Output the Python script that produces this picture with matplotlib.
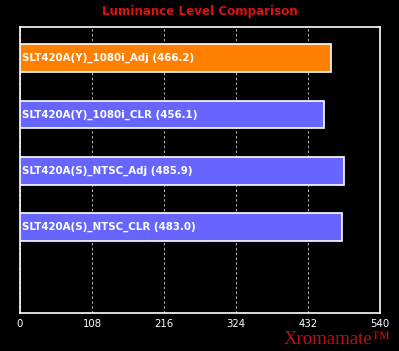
import matplotlib
matplotlib.use('Agg')
import matplotlib.pyplot as plt

# chart data
labels = ['SLT420A(Y)_1080i_Adj', 'SLT420A(Y)_1080i_CLR',
          'SLT420A(S)_NTSC_Adj', 'SLT420A(S)_NTSC_CLR']
values = [466.2, 456.1, 485.9, 483.0]
colors = ['#ff8000', '#6666ff', '#6666ff', '#6666ff']
xticks = [0, 108, 216, 324, 432, 540]


def main():
    fig = plt.figure(figsize=(3.99, 3.51), dpi=100, facecolor='black')
    ax = fig.add_axes([20 / 399, 1 - 313 / 351, 360 / 399, 286 / 351])
    ax.set_facecolor('black')

    pos = list(range(len(values)))
    ax.barh(pos, values, height=0.49, color=colors, edgecolor='white',
            linewidth=1.2, zorder=3)
    for p, lab, v in zip(pos, labels, values):
        ax.text(3, p, '%s (%.1f)' % (lab, v), color='white', fontsize=7.4,
                fontweight='bold', va='center', ha='left', zorder=4)

    ax.set_xlim(0, 540)
    ax.set_ylim(3 + 1.52, -0.55)
    ax.set_xticks(xticks)
    ax.set_xticklabels([str(t) for t in xticks], color='white', fontsize=7.3)
    ax.tick_params(axis='x', length=0, pad=4)
    ax.set_yticks([])
    ax.grid(axis='x', color='#bbbbbb', linestyle=(0, (2.5, 2.5)), linewidth=0.7,
            zorder=1)
    for s in ax.spines.values():
        s.set_color('white')
        s.set_linewidth(1.2)

    fig.text(0.5, 1 - 11 / 351, 'Luminance Level Comparison', color='#dd1111',
             fontsize=8.6, fontweight='bold', ha='center', va='center')
    fig.text(391 / 399, 1 - 339 / 351, 'Xromamate\u2122', color='#bb1111',
             fontsize=13.5, family='Liberation Serif', ha='right', va='center')

    fig.savefig('out.png', dpi=100, facecolor='black')


if __name__ == "__main__":
    main()
